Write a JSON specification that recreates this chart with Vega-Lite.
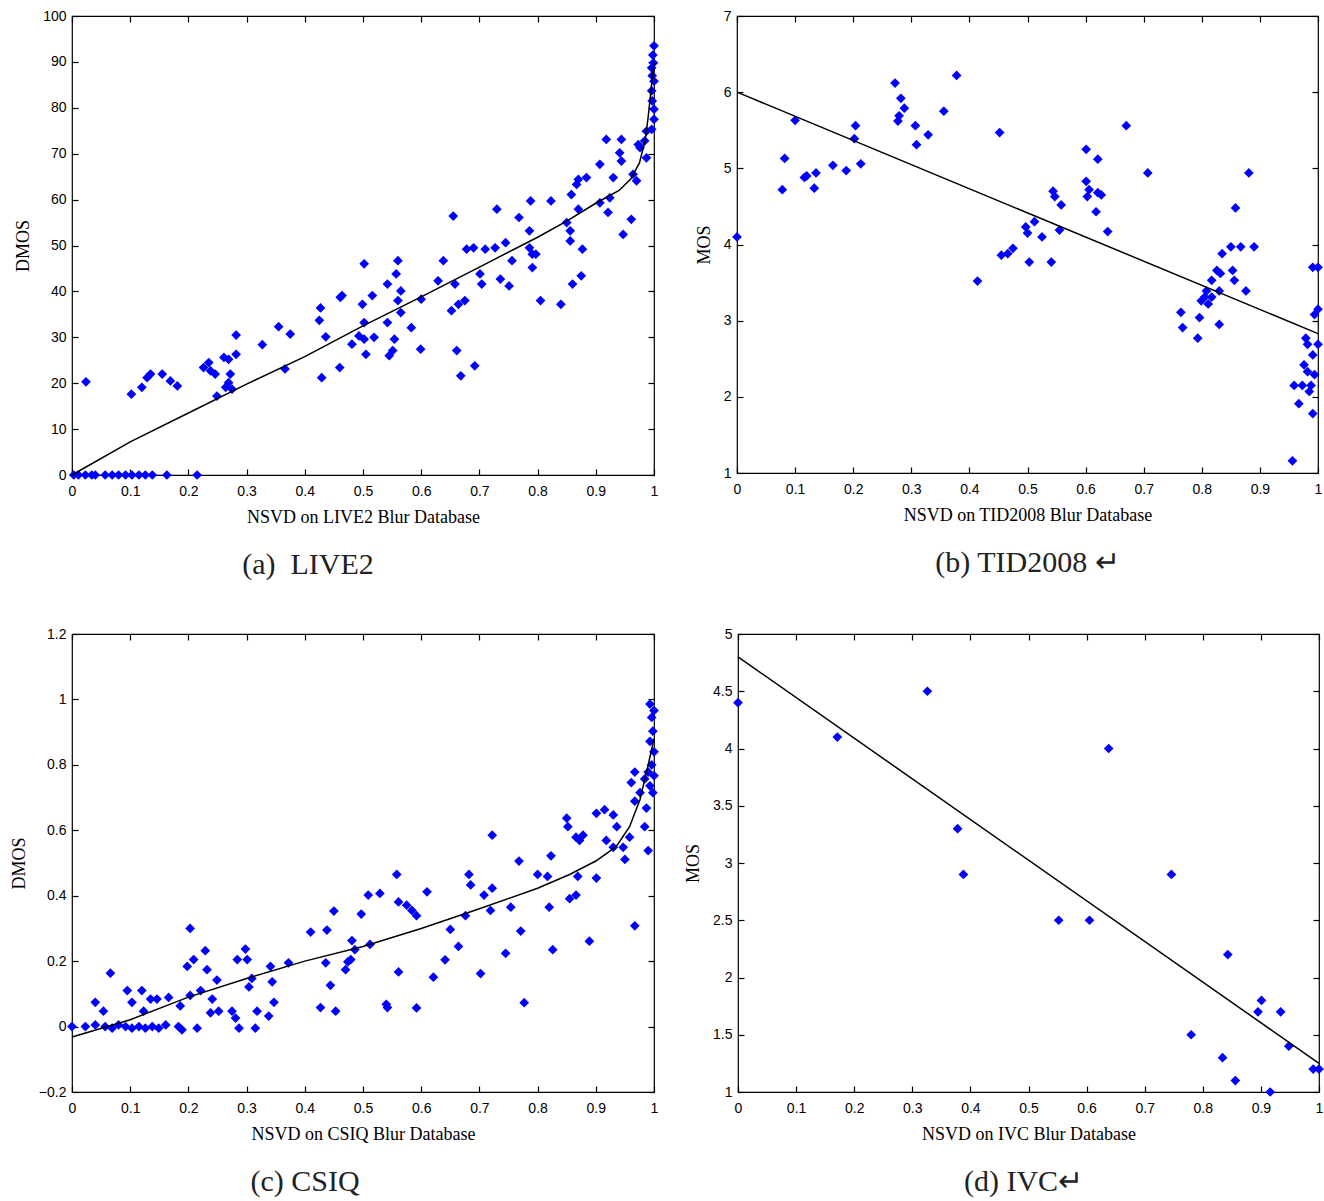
{
"$schema": "https://vega.github.io/schema/vega-lite/v6.json",
"background": "white",
"padding": {"left": 9, "top": 8, "right": 2, "bottom": 2},
"config": {
  "view": {"stroke": "#000", "strokeWidth": 1.2},
  "axis": {"domain": false, "grid": false, "tickColor": "#000", "tickSize": -6, "tickWidth": 1.2, "labelFont": "Liberation Sans", "labelFontSize": 14, "labelColor": "#000", "titleFont": "Liberation Serif", "titleFontSize": 18, "titleFontWeight": "normal", "titleColor": "#000", "labelPadding": 12, "titlePadding": 10, "labelFlush": false, "labelOverlap": false},
  "axisBottom": {"labelPadding": 15},
  "title": {"font": "Liberation Serif", "fontSize": 30, "fontWeight": "normal", "color": "#222"}
},
"datasets": {
  "a_pts": [
    {"x":0.003,"y":0},{"x":0.011,"y":0},{"x":0.023,"y":0},{"x":0.034,"y":0},{"x":0.04,"y":0},{"x":0.057,"y":0},{"x":0.069,"y":0},{"x":0.08,"y":0},{"x":0.092,"y":0},{"x":0.103,"y":0},{"x":0.115,"y":0},{"x":0.126,"y":0},{"x":0.138,"y":0},{"x":0.163,"y":0},{"x":0.215,"y":0},
    {"x":0.024,"y":20.3},{"x":0.102,"y":17.6},{"x":0.12,"y":19.1},{"x":0.129,"y":21.2},{"x":0.135,"y":22.0},{"x":0.155,"y":22.0},{"x":0.169,"y":20.5},{"x":0.181,"y":19.4},{"x":0.226,"y":23.4},{"x":0.235,"y":24.5},{"x":0.238,"y":22.7},{"x":0.246,"y":22.0},{"x":0.249,"y":17.2},{"x":0.261,"y":25.6},{"x":0.269,"y":25.2},{"x":0.272,"y":22.0},{"x":0.269,"y":20.1},{"x":0.264,"y":19.1},{"x":0.275,"y":18.7},{"x":0.282,"y":26.3},{"x":0.282,"y":30.5},{"x":0.327,"y":28.4},{"x":0.355,"y":32.3},{"x":0.375,"y":30.7},{"x":0.366,"y":23.1},{"x":0.425,"y":33.7},{"x":0.427,"y":36.4},{"x":0.429,"y":21.2},{"x":0.436,"y":30.1},{"x":0.46,"y":23.4},{"x":0.461,"y":38.7},{"x":0.464,"y":39.1},
    {"x":0.481,"y":28.5},{"x":0.493,"y":30.3},{"x":0.499,"y":37.2},{"x":0.502,"y":33.2},{"x":0.502,"y":29.6},{"x":0.505,"y":26.3},{"x":0.516,"y":39.1},{"x":0.519,"y":30.0},{"x":0.542,"y":33.2},{"x":0.542,"y":41.6},{"x":0.545,"y":26.0},{"x":0.551,"y":27.1},{"x":0.554,"y":29.6},{"x":0.557,"y":43.8},{"x":0.56,"y":38.0},{"x":0.56,"y":46.7},{"x":0.565,"y":40.1},{"x":0.565,"y":35.4},{"x":0.583,"y":32.1},{"x":0.6,"y":38.3},{"x":0.599,"y":27.4},{"x":0.629,"y":42.3},{"x":0.638,"y":46.7},{"x":0.652,"y":35.8},{"x":0.658,"y":41.6},{"x":0.661,"y":27.1},{"x":0.664,"y":37.2},{"x":0.668,"y":21.6},{"x":0.675,"y":38.0},{"x":0.692,"y":23.8},{"x":0.701,"y":43.8},{"x":0.704,"y":41.6},{"x":0.736,"y":42.7},{"x":0.751,"y":41.2},{"x":0.756,"y":46.7},{"x":0.791,"y":45.2},{"x":0.791,"y":48.1},{"x":0.805,"y":38.0},{"x":0.84,"y":37.2},{"x":0.86,"y":41.6},{"x":0.875,"y":43.4},{"x":0.502,"y":46.0},
    {"x":0.655,"y":56.4},{"x":0.678,"y":49.2},{"x":0.69,"y":49.5},{"x":0.71,"y":49.2},{"x":0.727,"y":49.5},{"x":0.745,"y":50.6},{"x":0.73,"y":57.9},{"x":0.768,"y":56.1},{"x":0.786,"y":53.2},{"x":0.786,"y":49.5},{"x":0.797,"y":48.1},{"x":0.788,"y":59.7},{"x":0.823,"y":59.7},{"x":0.85,"y":55.0},{"x":0.856,"y":53.2},{"x":0.856,"y":51.0},{"x":0.87,"y":57.9},{"x":0.858,"y":61.1},{"x":0.867,"y":63.3},{"x":0.87,"y":64.4},{"x":0.884,"y":64.8},{"x":0.877,"y":49.2},{"x":0.907,"y":59.3},{"x":0.924,"y":60.4},{"x":0.921,"y":57.2},{"x":0.907,"y":67.7},{"x":0.93,"y":64.8},{"x":0.918,"y":73.1},{"x":0.944,"y":73.1},{"x":0.941,"y":70.2},{"x":0.944,"y":68.4},{"x":0.947,"y":52.4},{"x":0.961,"y":55.7},{"x":0.964,"y":65.5},{"x":0.97,"y":64.1},{"x":0.973,"y":72.0},{"x":0.976,"y":71.3},{"x":0.984,"y":72.8},{"x":0.987,"y":74.9},{"x":0.987,"y":69.1},{"x":0.996,"y":75.3},{"x":1.0,"y":79.7},{"x":0.997,"y":81.5},{"x":0.996,"y":83.7},{"x":1.0,"y":85.8},{"x":0.996,"y":88.7},{"x":0.999,"y":89.8},{"x":1.0,"y":93.5},{"x":0.998,"y":91.5},{"x":0.997,"y":87.0},{"x":1.0,"y":77.5}
  ],
  "a_fit": [
    {"x":0,"y":0},{"x":0.1,"y":7.2},{"x":0.2,"y":13.5},{"x":0.3,"y":19.8},{"x":0.4,"y":25.8},{"x":0.5,"y":32.5},{"x":0.6,"y":38.8},{"x":0.7,"y":45.3},{"x":0.8,"y":51.8},{"x":0.85,"y":55.3},{"x":0.9,"y":59.2},{"x":0.94,"y":62.0},{"x":0.96,"y":64.5},{"x":0.975,"y":68.0},{"x":0.985,"y":73.0},{"x":0.99,"y":78.0},{"x":0.995,"y":84.0},{"x":1.0,"y":90.0}
  ],
  "b_pts": [
    {"x":0,"y":4.10},{"x":0.1,"y":5.63},{"x":0.082,"y":5.13},{"x":0.078,"y":4.72},{"x":0.116,"y":4.88},{"x":0.12,"y":4.9},{"x":0.133,"y":4.74},{"x":0.136,"y":4.94},{"x":0.165,"y":5.04},{"x":0.188,"y":4.97},{"x":0.204,"y":5.56},{"x":0.202,"y":5.39},{"x":0.213,"y":5.06},{"x":0.272,"y":6.12},{"x":0.282,"y":5.92},{"x":0.288,"y":5.79},{"x":0.279,"y":5.69},{"x":0.277,"y":5.62},{"x":0.307,"y":5.56},{"x":0.309,"y":5.31},{"x":0.329,"y":5.44},{"x":0.356,"y":5.75},{"x":0.378,"y":6.22},{"x":0.414,"y":3.52},{"x":0.452,"y":5.47},{"x":0.455,"y":3.86},{"x":0.466,"y":3.88},{"x":0.475,"y":3.95},
    {"x":0.497,"y":4.23},{"x":0.5,"y":4.15},{"x":0.512,"y":4.30},{"x":0.503,"y":3.77},{"x":0.525,"y":4.10},{"x":0.541,"y":3.77},{"x":0.544,"y":4.70},{"x":0.547,"y":4.63},{"x":0.558,"y":4.52},{"x":0.555,"y":4.19},{"x":0.601,"y":5.25},{"x":0.621,"y":5.12},{"x":0.601,"y":4.83},{"x":0.606,"y":4.72},{"x":0.603,"y":4.63},{"x":0.621,"y":4.68},{"x":0.627,"y":4.65},{"x":0.618,"y":4.43},{"x":0.638,"y":4.17},{"x":0.670,"y":5.56},{"x":0.707,"y":4.94},
    {"x":0.764,"y":3.11},{"x":0.767,"y":2.91},{"x":0.793,"y":2.77},{"x":0.796,"y":3.04},{"x":0.799,"y":3.26},{"x":0.805,"y":3.31},{"x":0.811,"y":3.22},{"x":0.817,"y":3.31},{"x":0.808,"y":3.39},{"x":0.830,"y":2.95},{"x":0.817,"y":3.53},{"x":0.826,"y":3.66},{"x":0.832,"y":3.62},{"x":0.835,"y":3.88},{"x":0.830,"y":3.39},{"x":0.853,"y":3.66},{"x":0.856,"y":3.53},{"x":0.858,"y":4.48},{"x":0.876,"y":3.39},{"x":0.85,"y":3.97},{"x":0.867,"y":3.97},{"x":0.89,"y":3.97},{"x":0.881,"y":4.94},
    {"x":0.956,"y":1.16},{"x":0.967,"y":1.91},{"x":0.991,"y":1.78},{"x":0.959,"y":2.15},{"x":0.973,"y":2.15},{"x":0.976,"y":2.42},{"x":0.982,"y":2.69},{"x":0.991,"y":2.55},{"x":0.994,"y":2.29},{"x":0.988,"y":2.15},{"x":1.0,"y":2.69},{"x":0.991,"y":3.70},{"x":1.0,"y":3.70},{"x":0.994,"y":3.08},{"x":1.0,"y":3.15},{"x":0.979,"y":2.77},{"x":0.982,"y":2.33},{"x":0.985,"y":2.07}
  ],
  "b_fit": [{"x":0,"y":6.0},{"x":1,"y":2.83}],
  "c_pts": [
    {"x":0,"y":0},{"x":0.023,"y":0},{"x":0.04,"y":0.005},{"x":0.057,"y":0},{"x":0.069,"y":-0.005},{"x":0.08,"y":0.005},{"x":0.092,"y":0},{"x":0.103,"y":-0.005},{"x":0.115,"y":0},{"x":0.126,"y":-0.005},{"x":0.138,"y":0},{"x":0.149,"y":-0.005},{"x":0.161,"y":0.005},{"x":0.183,"y":0},{"x":0.189,"y":-0.01},{"x":0.215,"y":-0.005},
    {"x":0.04,"y":0.074},{"x":0.054,"y":0.047},{"x":0.066,"y":0.163},{"x":0.095,"y":0.11},{"x":0.103,"y":0.074},{"x":0.12,"y":0.11},{"x":0.123,"y":0.047},{"x":0.135,"y":0.084},{"x":0.146,"y":0.084},{"x":0.166,"y":0.089},{"x":0.186,"y":0.063},{"x":0.203,"y":0.095},{"x":0.198,"y":0.184},{"x":0.209,"y":0.205},{"x":0.203,"y":0.30},{"x":0.229,"y":0.232},{"x":0.232,"y":0.174},{"x":0.221,"y":0.11},{"x":0.249,"y":0.142},{"x":0.241,"y":0.084},{"x":0.238,"y":0.042},{"x":0.252,"y":0.047},{"x":0.275,"y":0.047},{"x":0.281,"y":0.026},{"x":0.287,"y":-0.005},{"x":0.284,"y":0.205},{"x":0.298,"y":0.237},{"x":0.301,"y":0.205},{"x":0.304,"y":0.121},{"x":0.309,"y":0.147},{"x":0.315,"y":-0.005},{"x":0.318,"y":0.047},{"x":0.338,"y":0.032},{"x":0.341,"y":0.184},{"x":0.344,"y":0.137},{"x":0.347,"y":0.074},{"x":0.372,"y":0.195},{"x":0.41,"y":0.289},{"x":0.438,"y":0.295},{"x":0.436,"y":0.195},{"x":0.427,"y":0.058},{"x":0.444,"y":0.126},{"x":0.453,"y":0.047},{"x":0.45,"y":0.353},{"x":0.47,"y":0.174},{"x":0.481,"y":0.263},{"x":0.479,"y":0.205},
    {"x":0.474,"y":0.198},{"x":0.486,"y":0.235},{"x":0.497,"y":0.344},{"x":0.512,"y":0.251},{"x":0.509,"y":0.402},{"x":0.529,"y":0.407},{"x":0.54,"y":0.068},{"x":0.542,"y":0.058},{"x":0.561,"y":0.167},{"x":0.558,"y":0.465},{"x":0.561,"y":0.381},{"x":0.575,"y":0.371},{"x":0.584,"y":0.355},{"x":0.592,"y":0.339},{"x":0.592,"y":0.057},{"x":0.61,"y":0.412},{"x":0.621,"y":0.151},{"x":0.641,"y":0.204},{"x":0.65,"y":0.297},{"x":0.664,"y":0.245},{"x":0.676,"y":0.339},{"x":0.682,"y":0.465},{"x":0.685,"y":0.433},{"x":0.702,"y":0.162},{"x":0.708,"y":0.402},{"x":0.722,"y":0.423},{"x":0.719,"y":0.355},{"x":0.722,"y":0.585},{"x":0.745,"y":0.224},{"x":0.754,"y":0.365},{"x":0.768,"y":0.506},{"x":0.771,"y":0.292},{"x":0.777,"y":0.073},{"x":0.8,"y":0.465},{"x":0.817,"y":0.459},{"x":0.823,"y":0.522},{"x":0.82,"y":0.365},{"x":0.826,"y":0.235},{"x":0.85,"y":0.637},{"x":0.852,"y":0.611},{"x":0.866,"y":0.579},{"x":0.878,"y":0.585},{"x":0.872,"y":0.569},{"x":0.869,"y":0.459},{"x":0.855,"y":0.391},{"x":0.866,"y":0.402},{"x":0.889,"y":0.261},{"x":0.901,"y":0.454},{"x":0.901,"y":0.652},{"x":0.915,"y":0.663},{"x":0.93,"y":0.647},{"x":0.936,"y":0.611},{"x":0.918,"y":0.569},{"x":0.93,"y":0.548},{"x":0.947,"y":0.548},{"x":0.95,"y":0.511},{"x":0.958,"y":0.579},{"x":0.967,"y":0.308},{"x":0.967,"y":0.778},{"x":0.961,"y":0.746},{"x":0.967,"y":0.689},{"x":0.976,"y":0.715},{"x":0.984,"y":0.611},{"x":0.987,"y":0.668},{"x":0.99,"y":0.538},{"x":0.993,"y":0.986},{"x":0.996,"y":0.945},{"x":1.0,"y":0.966},{"x":0.998,"y":0.903},{"x":0.993,"y":0.872},{"x":1.0,"y":0.84},{"x":0.996,"y":0.80},{"x":1.0,"y":0.767},{"x":0.993,"y":0.736},{"x":0.998,"y":0.715},{"x":0.99,"y":0.778},{"x":0.984,"y":0.757}
  ],
  "c_fit": [
    {"x":0,"y":-0.032},{"x":0.1,"y":0.021},{"x":0.2,"y":0.09},{"x":0.3,"y":0.147},{"x":0.4,"y":0.2},{"x":0.5,"y":0.245},{"x":0.6,"y":0.3},{"x":0.7,"y":0.36},{"x":0.8,"y":0.423},{"x":0.855,"y":0.465},{"x":0.9,"y":0.506},{"x":0.935,"y":0.55},{"x":0.958,"y":0.611},{"x":0.976,"y":0.694},{"x":0.99,"y":0.8},{"x":1.0,"y":0.88}
  ],
  "d_pts": [
    {"x":0,"y":4.4},{"x":0.171,"y":4.1},{"x":0.326,"y":4.5},{"x":0.378,"y":3.3},{"x":0.388,"y":2.9},{"x":0.638,"y":4.0},{"x":0.552,"y":2.5},{"x":0.605,"y":2.5},{"x":0.746,"y":2.9},{"x":0.78,"y":1.5},{"x":0.843,"y":2.2},{"x":0.834,"y":1.3},{"x":0.856,"y":1.1},{"x":0.895,"y":1.7},{"x":0.901,"y":1.8},{"x":0.934,"y":1.7},{"x":0.948,"y":1.4},{"x":0.916,"y":1.0},{"x":0.99,"y":1.2},{"x":1.0,"y":1.2}
  ],
  "d_fit": [{"x":0,"y":4.8},{"x":1,"y":1.25}]
},
"vconcat": [
  {"hconcat": [
    {"width": 582, "height": 459,
     "title": {"text": "(a)\u00a0\u00a0LIVE2", "orient": "bottom", "anchor": "middle", "dx": -55, "offset": 24},
     "layer": [
       {"data": {"name": "a_pts"}, "mark": {"type": "point", "shape": "diamond", "filled": true, "size": 95, "color": "#0000ff", "opacity": 1},
        "encoding": {
          "x": {"field": "x", "type": "quantitative", "scale": {"domain": [0, 1], "nice": false, "zero": false}, "axis": {"orient": "bottom", "title": "NSVD on LIVE2 Blur Database", "values": [0,0.1,0.2,0.3,0.4,0.5,0.6,0.7,0.8,0.9,1], "format": ".1~f"}},
          "y": {"field": "y", "type": "quantitative", "scale": {"domain": [0, 100], "nice": false, "zero": false}, "axis": {"orient": "left", "title": "DMOS", "values": [0,10,20,30,40,50,60,70,80,90,100]}}}},
       {"data": {"name": "a_fit"}, "mark": {"type": "line", "color": "#000", "strokeWidth": 1.5},
        "encoding": {
          "x": {"field": "x", "type": "quantitative", "axis": {"orient": "top", "title": null, "labels": false, "values": [0,0.1,0.2,0.3,0.4,0.5,0.6,0.7,0.8,0.9,1]}},
          "y": {"field": "y", "type": "quantitative", "axis": {"orient": "right", "title": null, "labels": false, "values": [0,10,20,30,40,50,60,70,80,90,100]}}}}
     ],
     "resolve": {"axis": {"x": "independent", "y": "independent"}}
    },
    {"width": 581, "height": 457,
     "title": {"text": "(b) TID2008 ↵", "orient": "bottom", "anchor": "middle", "dx": 0, "offset": 24},
     "layer": [
       {"data": {"name": "b_pts"}, "mark": {"type": "point", "shape": "diamond", "filled": true, "size": 95, "color": "#0000ff", "opacity": 1},
        "encoding": {
          "x": {"field": "x", "type": "quantitative", "scale": {"domain": [0, 1], "nice": false, "zero": false}, "axis": {"orient": "bottom", "title": "NSVD on TID2008 Blur Database", "values": [0,0.1,0.2,0.3,0.4,0.5,0.6,0.7,0.8,0.9,1], "format": ".1~f"}},
          "y": {"field": "y", "type": "quantitative", "scale": {"domain": [1, 7], "nice": false, "zero": false}, "axis": {"orient": "left", "title": "MOS", "values": [1,2,3,4,5,6,7]}}}},
       {"data": {"name": "b_fit"}, "mark": {"type": "line", "color": "#000", "strokeWidth": 1.5},
        "encoding": {
          "x": {"field": "x", "type": "quantitative", "axis": {"orient": "top", "title": null, "labels": false, "values": [0,0.1,0.2,0.3,0.4,0.5,0.6,0.7,0.8,0.9,1]}},
          "y": {"field": "y", "type": "quantitative", "axis": {"orient": "right", "title": null, "labels": false, "values": [1,2,3,4,5,6,7]}}}}
     ],
     "resolve": {"axis": {"x": "independent", "y": "independent"}}
    }
  ], "spacing": 34},
  {"hconcat": [
    {"width": 582, "height": 458,
     "title": {"text": "(c) CSIQ", "orient": "bottom", "anchor": "middle", "dx": -58, "offset": 24},
     "layer": [
       {"data": {"name": "c_pts"}, "mark": {"type": "point", "shape": "diamond", "filled": true, "size": 95, "color": "#0000ff", "opacity": 1},
        "encoding": {
          "x": {"field": "x", "type": "quantitative", "scale": {"domain": [0, 1], "nice": false, "zero": false}, "axis": {"orient": "bottom", "title": "NSVD on CSIQ Blur Database", "values": [0,0.1,0.2,0.3,0.4,0.5,0.6,0.7,0.8,0.9,1], "format": ".1~f"}},
          "y": {"field": "y", "type": "quantitative", "scale": {"domain": [-0.2, 1.2], "nice": false, "zero": false}, "axis": {"orient": "left", "title": "DMOS", "values": [-0.2,0,0.2,0.4,0.6,0.8,1,1.2], "format": ".1~f"}}}},
       {"data": {"name": "c_fit"}, "mark": {"type": "line", "color": "#000", "strokeWidth": 1.5},
        "encoding": {
          "x": {"field": "x", "type": "quantitative", "axis": {"orient": "top", "title": null, "labels": false, "values": [0,0.1,0.2,0.3,0.4,0.5,0.6,0.7,0.8,0.9,1]}},
          "y": {"field": "y", "type": "quantitative", "axis": {"orient": "right", "title": null, "labels": false, "values": [-0.2,0,0.2,0.4,0.6,0.8,1,1.2]}}}}
     ],
     "resolve": {"axis": {"x": "independent", "y": "independent"}}
    },
    {"width": 581, "height": 458,
     "title": {"text": "(d) IVC↵", "orient": "bottom", "anchor": "middle", "dx": -5, "offset": 24},
     "layer": [
       {"data": {"name": "d_pts"}, "mark": {"type": "point", "shape": "diamond", "filled": true, "size": 95, "color": "#0000ff", "opacity": 1},
        "encoding": {
          "x": {"field": "x", "type": "quantitative", "scale": {"domain": [0, 1], "nice": false, "zero": false}, "axis": {"orient": "bottom", "title": "NSVD on IVC Blur Database", "values": [0,0.1,0.2,0.3,0.4,0.5,0.6,0.7,0.8,0.9,1], "format": ".1~f"}},
          "y": {"field": "y", "type": "quantitative", "scale": {"domain": [1, 5], "nice": false, "zero": false}, "axis": {"orient": "left", "title": "MOS", "values": [1,1.5,2,2.5,3,3.5,4,4.5,5], "format": ".1~f"}}}},
       {"data": {"name": "d_fit"}, "mark": {"type": "line", "color": "#000", "strokeWidth": 1.5},
        "encoding": {
          "x": {"field": "x", "type": "quantitative", "axis": {"orient": "top", "title": null, "labels": false, "values": [0,0.1,0.2,0.3,0.4,0.5,0.6,0.7,0.8,0.9,1]}},
          "y": {"field": "y", "type": "quantitative", "axis": {"orient": "right", "title": null, "labels": false, "values": [1,1.5,2,2.5,3,3.5,4,4.5,5]}}}}
     ],
     "resolve": {"axis": {"x": "independent", "y": "independent"}}
    }
  ], "spacing": 23}
],
"spacing": 45
}
